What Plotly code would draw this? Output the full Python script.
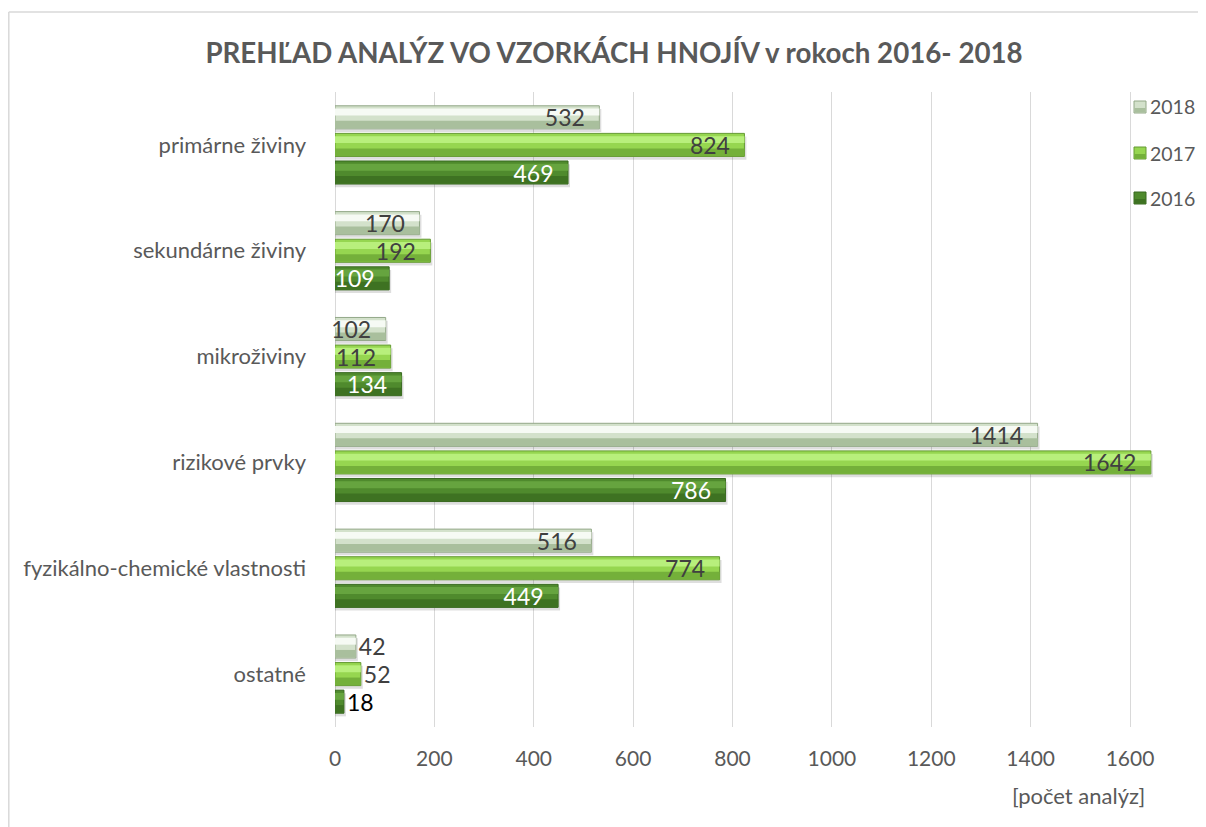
import plotly.graph_objects as go

categories = ["primárne živiny", "sekundárne živiny", "mikroživiny", "rizikové prvky",
              "fyzikálno-chemické vlastnosti", "ostatné"]
years = ["2018", "2017", "2016"]
v2018 = [532, 170, 102, 1414, 516, 42]
v2017 = [824, 192, 112, 1642, 774, 52]
v2016 = [469, 109, 134, 786, 449, 18]
ticks = [0, 200, 400, 600, 800, 1000, 1200, 1400, 1600]
title = "PREHĽAD ANALÝZ VO VZORKÁCH HNOJÍV v rokoch 2016- 2018"
axis_title = "[počet analýz]"

series = [v2018, v2017, v2016]
# (shadow, base, mid, highlight, border)
palettes = [
    ("rgba(0,0,0,0.13)", "#a9bf9d", "#d3e1cb", "#f6faf4", "#93a888"),
    ("rgba(0,0,0,0.13)", "#74b03a", "#96d650", "#b8ef7c", "#659a33"),
    ("rgba(0,0,0,0.13)", "#3e7222", "#4f8a2d", "#66a43f", "#386820"),
]
label_in = ["#404040", "#404040", "#ffffff"]
label_out = ["#404040", "#404040", "#000000"]

# page body has an 8px margin: figure coordinates = screen - 8
OFF = 8
W, H = 1206 - OFF, 827 - OFF
ML, MR, MT, MB = 335 - OFF, 0, 92 - OFF, 100
FONT = "Lato"
GRAY = "#595959"

pitch = 0.2607
bh = 0.218
centers = [-pitch, 0.0, pitch]
xmax = 1600 * (1206 - 335) / (1130 - 335)

fig = go.Figure()
for i, (yr, vals) in enumerate(zip(years, series)):
    sh, base, mid, hi, brd = palettes[i]
    c = centers[i]
    fig.add_trace(go.Bar(y=categories, x=[v + 4 for v in vals], orientation="h",
                         offset=c - bh / 2 + 0.03, width=bh, marker=dict(color=sh, line=dict(width=0)),
                         showlegend=False, hoverinfo="skip"))
    fig.add_trace(go.Bar(y=categories, x=vals, orientation="h", name=yr,
                         offset=c - bh / 2, width=bh,
                         marker=dict(color=mid, line=dict(color=brd, width=1)),
                         showlegend=False, hoverinfo="skip"))
    fig.add_trace(go.Bar(y=categories, x=vals, orientation="h",
                         offset=c + bh * 0.15, width=bh * 0.33,
                         marker=dict(color=base, line=dict(width=0)),
                         showlegend=False, hoverinfo="skip"))
    fig.add_trace(go.Bar(y=categories, x=vals, orientation="h",
                         offset=c - bh * 0.38, width=bh * 0.3,
                         marker=dict(color=hi, line=dict(width=0)),
                         showlegend=False, hoverinfo="skip"))
    tpos = ["inside" if v > 80 else "outside" for v in vals]
    fig.add_trace(go.Bar(y=categories, x=vals, orientation="h",
                         offset=c - bh / 2, width=bh,
                         marker=dict(color="rgba(0,0,0,0)", line=dict(width=0)),
                         text=[str(v) for v in vals], texttemplate="%{text}\u2002",
                         textposition=tpos, insidetextanchor="end",
                         insidetextfont=dict(family=FONT, size=23, color=label_in[i]),
                         outsidetextfont=dict(family=FONT, size=23, color=label_out[i]),
                         constraintext="none", cliponaxis=False, showlegend=False,
                         hovertemplate="%{y}: %{x}<extra>" + yr + "</extra>"))


def px_x(sx):
    return (sx - OFF - ML) / (W - ML - MR)


def px_y(sy):
    return (H - MB - (sy - OFF)) / (H - MT - MB)


# manual legend (squares + labels), ordered 2018, 2017, 2016 top to bottom
legend_rows = [107, 153, 198]
shapes = [
    dict(type="line", xref="paper", yref="paper", x0=px_x(8.8), x1=px_x(8.8),
         y0=px_y(12), y1=px_y(840), line=dict(color="#d9d9d9", width=1.5), layer="below"),
    dict(type="line", xref="paper", yref="paper", x0=px_x(8.8), x1=px_x(1220),
         y0=px_y(12), y1=px_y(12), line=dict(color="#d9d9d9", width=1.5), layer="below"),
]
annotations = [dict(text=axis_title, xref="paper", yref="paper",
                    x=px_x(1147), y=px_y(795), xanchor="right", yanchor="middle",
                    showarrow=False, font=dict(family=FONT, size=22, color=GRAY))]
for i, yr in enumerate(years):
    sh, base, mid, hi, brd = palettes[i]
    cy = legend_rows[i]
    shapes.append(dict(type="rect", xref="paper", yref="paper",
                       x0=px_x(1134), x1=px_x(1146), y0=px_y(cy + 6), y1=px_y(cy - 6),
                       fillcolor=mid, line=dict(color=brd, width=1)))
    shapes.append(dict(type="rect", xref="paper", yref="paper",
                       x0=px_x(1134.5), x1=px_x(1145.5), y0=px_y(cy + 5.5), y1=px_y(cy + 1),
                       fillcolor=base, line=dict(width=0)))
    annotations.append(dict(text=yr, xref="paper", yref="paper",
                            x=px_x(1148), y=px_y(cy), xanchor="left", yanchor="middle",
                            showarrow=False, font=dict(family=FONT, size=19.5, color=GRAY)))

fig.update_layout(
    width=W, height=H,
    margin=dict(l=ML, r=MR, t=MT, b=MB, autoexpand=False),
    barmode="overlay", showlegend=False,
    paper_bgcolor="white", plot_bgcolor="white",
    font=dict(family=FONT, color=GRAY),
    title=dict(text="<b>" + title + "</b>", x=(614 - OFF) / W, xref="container", xanchor="center",
               y=1 - (53 - OFF) / H, yref="container", yanchor="middle",
               font=dict(family=FONT, size=27.7, color=GRAY)),
    xaxis=dict(range=[0, xmax], tickvals=ticks, ticktext=[str(t) for t in ticks],
               showgrid=True, gridcolor="#d9d9d9", gridwidth=1,
               zeroline=True, zerolinecolor="#d9d9d9", zerolinewidth=1,
               showline=False, ticks="", ticklabelstandoff=17,
               tickfont=dict(family=FONT, size=21, color=GRAY), fixedrange=True),
    yaxis=dict(type="category", categoryorder="array", categoryarray=categories,
               range=[len(categories) - 0.5, -0.5], showgrid=False, zeroline=False,
               showline=False, ticks="", ticklabelstandoff=28,
               tickfont=dict(family=FONT, size=22, color=GRAY), fixedrange=True),
    annotations=annotations,
    shapes=shapes,
)

fig.write_html("out.html")
